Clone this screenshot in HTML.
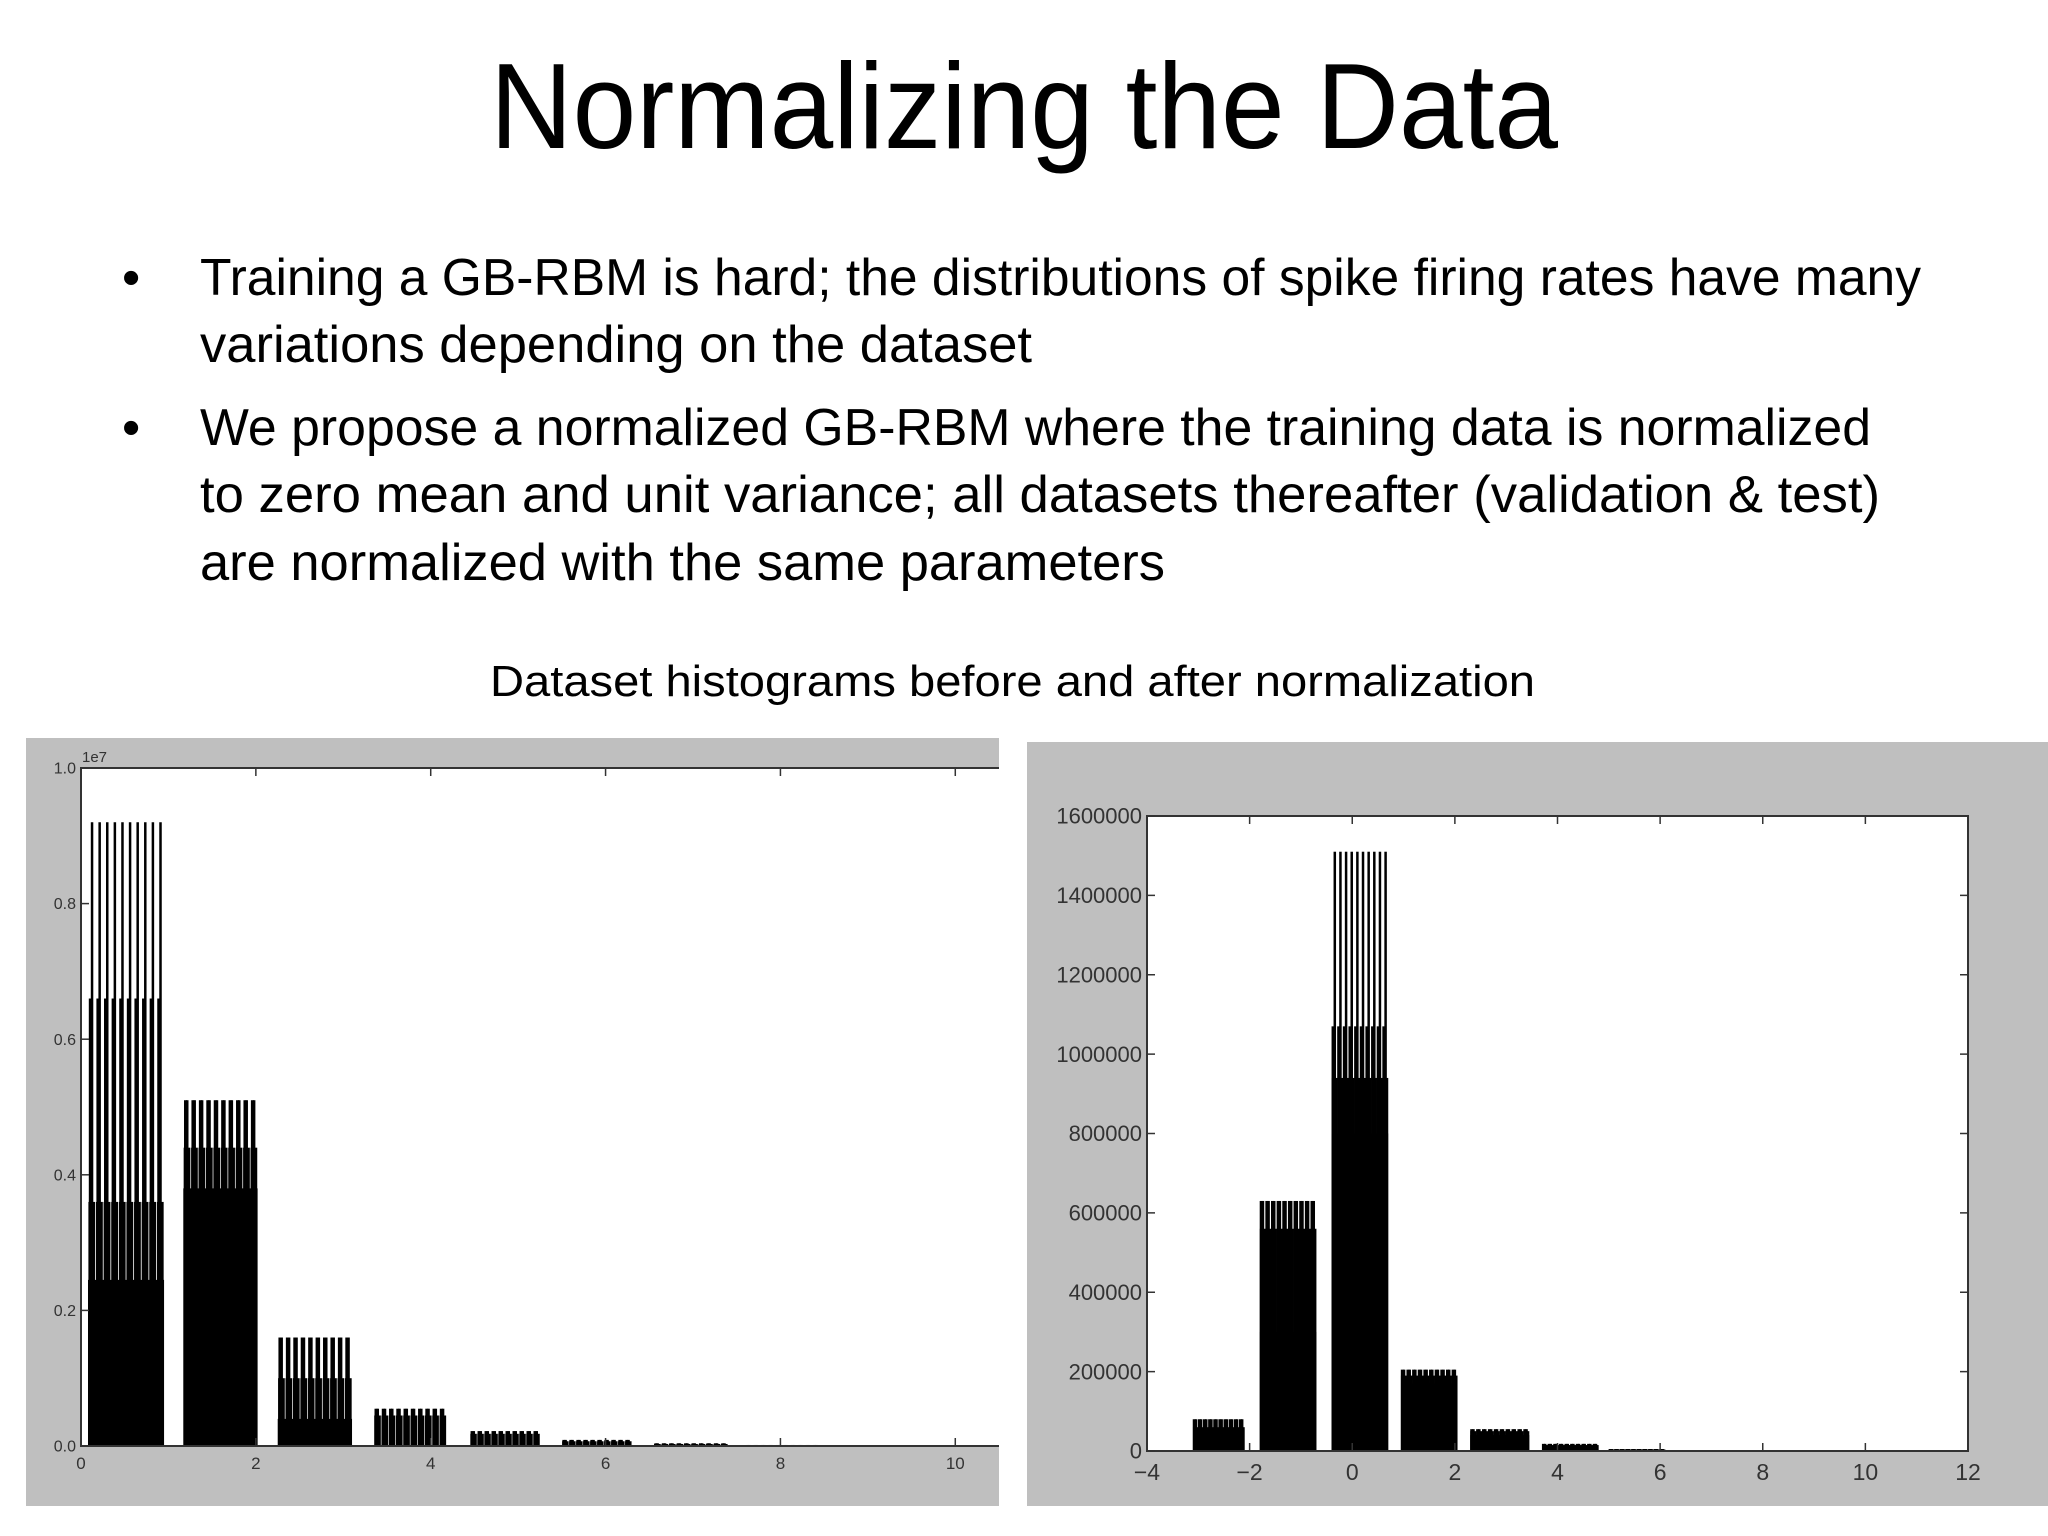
<!DOCTYPE html>
<html><head><meta charset="utf-8">
<style>
html,body{margin:0;padding:0;background:#fff;}
svg{display:block;font-family:"Liberation Sans",sans-serif;}
</style></head>
<body>
<svg id="page" width="2048" height="1536" viewBox="0 0 2048 1536" xmlns="http://www.w3.org/2000/svg">
  <text x="490" y="148" font-size="122" textLength="1068" lengthAdjust="spacingAndGlyphs" fill="#000">Normalizing the Data</text>
  <g font-size="52" fill="#000">
    <text x="122" y="295">•</text>
    <text x="200" y="295" textLength="1721" lengthAdjust="spacingAndGlyphs">Training a GB-RBM is hard; the distributions of spike firing rates have many</text>
    <text x="200" y="362" textLength="832" lengthAdjust="spacingAndGlyphs">variations depending on the dataset</text>
    <text x="122" y="445">•</text>
    <text x="200" y="445" textLength="1671" lengthAdjust="spacingAndGlyphs">We propose a normalized GB-RBM where the training data is normalized</text>
    <text x="200" y="512" textLength="1680" lengthAdjust="spacingAndGlyphs">to zero mean and unit variance; all datasets thereafter (validation &amp; test)</text>
    <text x="200" y="580" textLength="965" lengthAdjust="spacingAndGlyphs">are normalized with the same parameters</text>
  </g>
  <text x="490" y="696" font-size="44" textLength="1045" lengthAdjust="spacingAndGlyphs" fill="#000">Dataset histograms before and after normalization</text>

  <rect x="26" y="738" width="973" height="768" fill="#bfbfbf"/>
  <rect x="81" y="768" width="918" height="678" fill="#fff"/>
  <g id="leftChart"></g>

  <rect x="1027" y="742" width="1021" height="764" fill="#bfbfbf"/>
  <rect x="1147" y="816" width="821" height="635" fill="#fff"/>
  <g id="rightChart"></g>
</svg>
<script>
// ---- Left chart data (before normalization, units of 1e7) ----
const leftStarts = [0.08, 1.17, 2.25, 3.35, 4.45, 5.5, 6.55, 7.6];
const leftEnds   = [0.95, 2.02, 3.1, 4.18, 5.25, 6.3, 7.4, 8.45];
const leftBase   = [0.245, 0.38, 0.04, 0.0, 0.0, 0.0, 0.0, 0.0];
const leftMid    = [0.36, 0.44, 0.10, 0.045, 0.018, 0.007, 0.003, 0.001];
const leftUpper  = [0.66, 0.51, 0.16, 0.055, 0.022, 0.009, 0.004, 0.0015];
const leftTop    = [0.92, 0.51, 0.16, 0.055, 0.022, 0.009, 0.004, 0.0015];
const leftXTicks = [0, 2, 4, 6, 8, 10];
const leftYTicks = [0.0, 0.2, 0.4, 0.6, 0.8, 1.0];

// ---- Right chart data (after normalization, counts) ----
const rightStarts = [-3.1, -1.8, -0.4, 0.95, 2.3, 3.7, 5.0];
const rightEnds   = [-2.1, -0.7, 0.7, 2.05, 3.45, 4.8, 6.1];
const rightBase   = [40000, 300000, 800000, 170000, 40000, 12000, 2000];
const rightMid    = [60000, 560000, 940000, 190000, 50000, 15000, 4000];
const rightUpper  = [80000, 630000, 1070000, 205000, 55000, 18000, 5000];
const rightTop    = [80000, 630000, 1510000, 205000, 55000, 18000, 5000];
const rightXTicks = [-4, -2, 0, 2, 4, 6, 8, 10, 12];
const rightYTicks = [0, 200000, 400000, 600000, 800000, 1000000, 1200000, 1400000, 1600000];

const NS = "http://www.w3.org/2000/svg";
function mk(tag, attrs, parent){
  const e = document.createElementNS(NS, tag);
  for (const k in attrs) e.setAttribute(k, attrs[k]);
  parent.appendChild(e);
  return e;
}

function drawChart(g, cfg){
  const sx = v => cfg.x0 + (v - cfg.xmin) / (cfg.xmax - cfg.xmin) * (cfg.x1 - cfg.x0);
  const sy = v => cfg.y0 - (v - cfg.ymin) / (cfg.ymax - cfg.ymin) * (cfg.y0 - cfg.y1);
  const n = 10, m = 20;
  for (let i = 0; i < cfg.starts.length; i++){
    const a = sx(cfg.starts[i]), b = sx(cfg.ends[i]);
    const base = mk('rect', {x:a, y:sy(cfg.base[i]), width:b-a, height:cfg.y0 - sy(cfg.base[i]), fill:'#000'}, g);
    
    
    for (let j = 0; j < m; j++){
      const x = a + (b - a) * (j + 0.5) / m;
      const md = mk('rect', {x:x-1.5, y:sy(cfg.mid[i]), width:3, height:cfg.y0 - sy(cfg.mid[i]), fill:'#000'}, g);
      
      
    }
    for (let j = 0; j < n; j++){
      const x = a + (b - a) * (j + 0.5) / n;
      const up = mk('rect', {x:x-3, y:sy(cfg.upper[i]), width:3, height:cfg.y0 - sy(cfg.upper[i]), fill:'#000'}, g);
      
      
      const sp = mk('rect', {x:x-1, y:sy(cfg.top[i]), width:2.5, height:cfg.y0 - sy(cfg.top[i]), fill:'#000'}, g);
      
      
    }
  }
  const frame = mk('path', {d: cfg.frame(cfg), fill:'none', stroke:'#333', 'stroke-width':2}, g);
  
  
  cfg.xticks.forEach(t => {
    const x = sx(t);
    mk('line', {x1:x, x2:x, y1:cfg.y0, y2:cfg.y0-8, stroke:'#333', 'stroke-width':1.5}, g);
    mk('line', {x1:x, x2:x, y1:cfg.y1, y2:cfg.y1+8, stroke:'#333', 'stroke-width':1.5}, g);
    const lb = mk('text', {x:x, y:cfg.y0 + cfg.fs + 6, 'font-size':cfg.fs, 'text-anchor':'middle', fill:'#333'}, g);
    lb.textContent = t < 0 ? '\u2212' + Math.abs(t) : String(t);
    
    
  });
  cfg.yticks.forEach(t => {
    const y = sy(t);
    mk('line', {x1:cfg.x0, x2:cfg.x0+8, y1:y, y2:y, stroke:'#333', 'stroke-width':1.5}, g);
    if (cfg.rightTicks) mk('line', {x1:cfg.x1, x2:cfg.x1-8, y1:y, y2:y, stroke:'#333', 'stroke-width':1.5}, g);
    const lb = mk('text', {x:cfg.x0 - 5, y:y + cfg.yfs*0.35, 'font-size':cfg.yfs, 'text-anchor':'end', fill:'#333'}, g);
    lb.textContent = cfg.yfmt(t);
    
    
  });
}

const left = document.getElementById('leftChart');
drawChart(left, {x0:81, x1:999, y0:1446, y1:768, xmin:0, xmax:10.5, ymin:0, ymax:1.0,
  starts:leftStarts, ends:leftEnds, base:leftBase, mid:leftMid, upper:leftUpper, top:leftTop,
  xticks:leftXTicks, yticks:leftYTicks, fs:17, yfs:16, rightTicks:false,
  yfmt: t => t.toFixed(1),
  frame: c => `M${c.x1},${c.y1} H${c.x0} V${c.y0} H${c.x1}`});
const off = mk('text', {x:82, y:762, 'font-size':15, fill:'#333'}, left);
off.textContent = '1e7';



const right = document.getElementById('rightChart');
drawChart(right, {x0:1147, x1:1968, y0:1451, y1:816, xmin:-4, xmax:12, ymin:0, ymax:1600000,
  starts:rightStarts, ends:rightEnds, base:rightBase, mid:rightMid, upper:rightUpper, top:rightTop,
  xticks:rightXTicks, yticks:rightYTicks, fs:23, yfs:22, rightTicks:true,
  yfmt: t => String(t),
  frame: c => `M${c.x0},${c.y1} H${c.x1} V${c.y0} H${c.x0} Z`});
</script>
</body></html>
